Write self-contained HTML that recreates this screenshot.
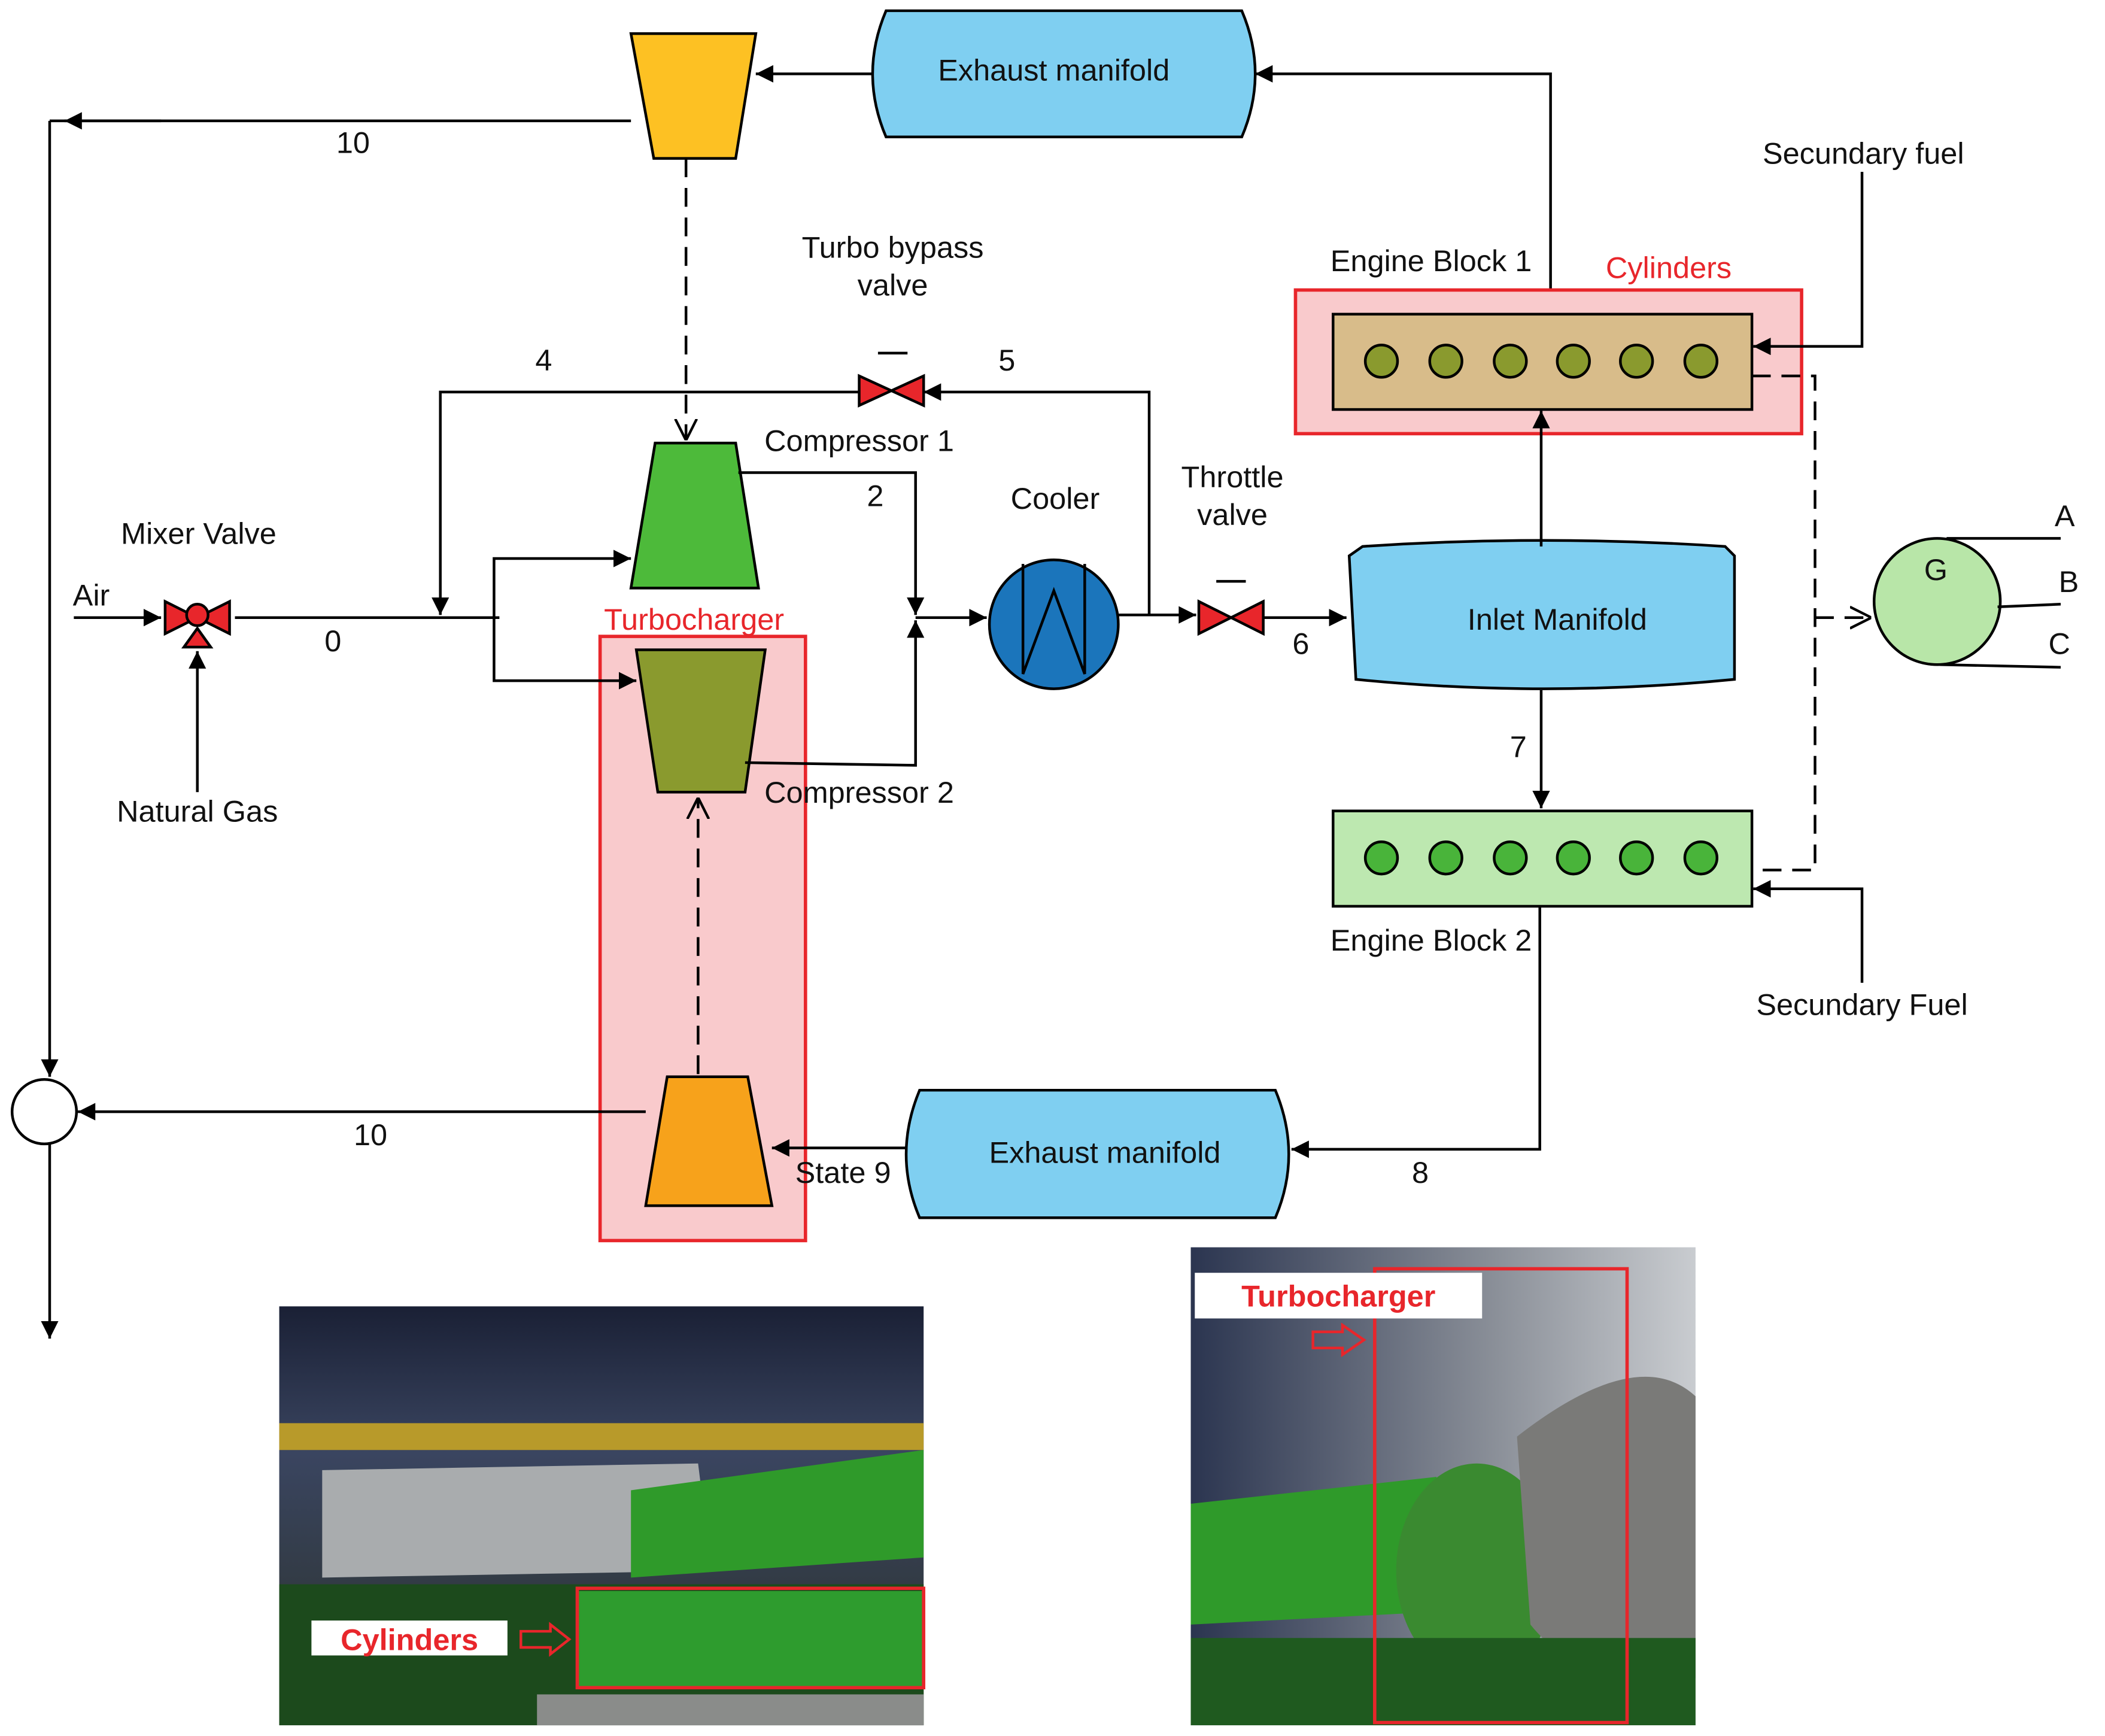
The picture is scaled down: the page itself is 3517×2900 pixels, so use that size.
<!DOCTYPE html>
<html><head><meta charset="utf-8"><style>
html,body{margin:0;padding:0;background:#fff;}
svg{display:block;}
text{font-family:"Liberation Sans",sans-serif;font-size:22.5px;fill:#111;}
</style></head><body>
<svg width="3517" height="2900" viewBox="0 0 1568 1293" preserveAspectRatio="none" xmlns="http://www.w3.org/2000/svg">
<defs>
<marker id="a" viewBox="0 0 10 10" refX="10" refY="5" markerWidth="16" markerHeight="13" orient="auto" markerUnits="userSpaceOnUse"><path d="M0,0 L10,5 L0,10 z" fill="#000"/></marker>
<marker id="o" viewBox="0 0 10 10" refX="10" refY="5" markerWidth="16" markerHeight="18" orient="auto" markerUnits="userSpaceOnUse"><path d="M0,0 L10,5 L0,10" fill="none" stroke="#000" stroke-width="1.2"/></marker>
<linearGradient id="ph1" x1="0" y1="0" x2="0" y2="1"><stop offset="0" stop-color="#1a2035"/><stop offset="0.35" stop-color="#3a4560"/><stop offset="1" stop-color="#2a3028"/></linearGradient>
<linearGradient id="ph2" x1="0" y1="0" x2="1" y2="0"><stop offset="0" stop-color="#2b3550"/><stop offset="0.6" stop-color="#8a8f98"/><stop offset="1" stop-color="#c9ccd0"/></linearGradient>
</defs>
<g stroke="#000" stroke-width="2" fill="none">
<path d="M470,25 L563,25 L548,118 L487,118 Z" fill="#FDC123"/>
<path d="M660,8 L925,8 Q945,55 925,102 L660,102 Q640,55 660,8 Z" fill="#7FCFF1"/>
<line x1="650" y1="55" x2="563" y2="55" marker-end="url(#a)"/>
<polyline points="1155,234 1155,55 935,55" marker-end="url(#a)"/>
<line x1="470" y1="90" x2="37" y2="90"/><line x1="120" y1="90" x2="48" y2="90" marker-end="url(#a)"/>
<line x1="37" y1="90" x2="37" y2="802" marker-end="url(#a)"/>
<line x1="511" y1="118" x2="511" y2="328" stroke-dasharray="14,8" marker-end="url(#o)"/>
<rect x="447" y="474" width="153" height="450" fill="#F9CACC" stroke="#E8262B" stroke-width="2.5"/>
<path d="M488,330 L548,330 L565,438 L470,438 Z" fill="#4DBA3A"/>
<path d="M474,484 L570,484 L555,590 L490,590 Z" fill="#8A9A2E"/>
<path d="M497,802 L557,802 L575,898 L481,898 Z" fill="#F7A21B"/>
<line x1="520" y1="800" x2="520" y2="594" stroke-dasharray="14,8" marker-end="url(#o)"/>
<line x1="55" y1="460" x2="120" y2="460" marker-end="url(#a)"/>
<line x1="175" y1="460" x2="372" y2="460"/>
<line x1="147" y1="590" x2="147" y2="485" marker-end="url(#a)"/>
<polyline points="368,460 368,416 470,416" marker-end="url(#a)"/>
<polyline points="368,460 368,507 474,507" marker-end="url(#a)"/>
<polyline points="640,292 328,292 328,458" marker-end="url(#a)"/>
<polyline points="856,458 856,292 688,292" marker-end="url(#a)"/>
<polyline points="550,352 682,352 682,458" marker-end="url(#a)"/>
<polyline points="555,568 682,570 682,462" marker-end="url(#a)"/>
<line x1="682" y1="460" x2="735" y2="460" marker-end="url(#a)"/>
<circle cx="785" cy="465" r="48" fill="#1B75BB"/>
<polyline points="762,420 762,502 785,440 808,502 808,420" stroke="#000" stroke-width="2"/>
<line x1="833" y1="458" x2="891" y2="458" marker-end="url(#a)"/>
<line x1="941" y1="460" x2="1003" y2="460" marker-end="url(#a)"/>
<path d="M1015,407 Q1150,398 1285,407 L1292,414 L1292,506 Q1150,520 1010,506 L1005,414 Z" fill="#7FCFF1"/>
<line x1="1148" y1="514" x2="1148" y2="602" marker-end="url(#a)"/>
<rect x="965" y="216" width="377" height="107" fill="#F9CACC" stroke="#E8262B" stroke-width="2.5"/>
<rect x="993" y="234" width="312" height="71" fill="#D8BC8A"/>
<line x1="1148" y1="407" x2="1148" y2="306" marker-end="url(#a)"/>
<g fill="#8A9A2E"><circle cx="1029" cy="269" r="12"/><circle cx="1077" cy="269" r="12"/><circle cx="1125" cy="269" r="12"/><circle cx="1172" cy="269" r="12"/><circle cx="1219" cy="269" r="12"/><circle cx="1267" cy="269" r="12"/></g>
<polyline points="1387,128 1387,258 1306,258" marker-end="url(#a)"/>
<rect x="993" y="604" width="312" height="71" fill="#BDE8B0"/>
<g fill="#49B43A"><circle cx="1029" cy="639" r="12"/><circle cx="1077" cy="639" r="12"/><circle cx="1125" cy="639" r="12"/><circle cx="1172" cy="639" r="12"/><circle cx="1219" cy="639" r="12"/><circle cx="1267" cy="639" r="12"/></g>
<polyline points="1387,732 1387,662 1306,662" marker-end="url(#a)"/>
<polyline points="1305,280 1352,280 1352,648 1305,648" stroke-dasharray="14,8"/>
<line x1="1352" y1="460" x2="1394" y2="460" stroke-dasharray="14,8" marker-end="url(#o)"/>
<circle cx="1443" cy="448" r="47" fill="#B8E6A8"/>
<line x1="1450" y1="401" x2="1535" y2="401"/><line x1="1488" y1="452" x2="1535" y2="450"/><line x1="1445" y1="495" x2="1535" y2="497"/>
<polyline points="1147,675 1147,856 962,856" marker-end="url(#a)"/>
<path d="M685,812 L950,812 Q970,860 950,907 L685,907 Q665,860 685,812 Z" fill="#7FCFF1"/>
<line x1="675" y1="855" x2="575" y2="855" marker-end="url(#a)"/>
<line x1="481" y1="828" x2="58" y2="828" marker-end="url(#a)"/>
<circle cx="33" cy="828" r="24" fill="#fff"/>
<line x1="37" y1="852" x2="37" y2="997" marker-end="url(#a)"/>
<path d="M640,280 L640,302 L688,280 L688,302 Z" fill="#E8262B"/><line x1="654" y1="263" x2="676" y2="263"/>
<path d="M893,448 L893,472 L941,448 L941,472 Z" fill="#E8262B"/><line x1="906" y1="433" x2="928" y2="433"/>
<path d="M123,448 L123,472 L171,448 L171,472 Z" fill="#E8262B"/>
<path d="M137,482 L157,482 L147,468 Z" fill="#E8262B"/>
<circle cx="147" cy="458" r="8" fill="#E8262B"/>
</g>
<text x="785" y="60" text-anchor="middle">Exhaust manifold</text>
<text x="263" y="114" text-anchor="middle">10</text>
<text x="665" y="192" text-anchor="middle">Turbo bypass</text>
<text x="665" y="220" text-anchor="middle">valve</text>
<text x="405" y="276" text-anchor="middle">4</text>
<text x="750" y="276" text-anchor="middle">5</text>
<text x="640" y="336" text-anchor="middle">Compressor 1</text>
<text x="652" y="377" text-anchor="middle">2</text>
<text x="786" y="379" text-anchor="middle">Cooler</text>
<text x="918" y="363" text-anchor="middle">Throttle</text>
<text x="918" y="391" text-anchor="middle">valve</text>
<text x="969" y="487" text-anchor="middle">6</text>
<text x="1160" y="469" text-anchor="middle">Inlet Manifold</text>
<text x="148" y="405" text-anchor="middle">Mixer Valve</text>
<text x="68" y="451" text-anchor="middle">Air</text>
<text x="248" y="485" text-anchor="middle">0</text>
<text x="147" y="612" text-anchor="middle">Natural Gas</text>
<text x="517" y="469" text-anchor="middle" style="fill:#E8262B">Turbocharger</text>
<text x="640" y="598" text-anchor="middle">Compressor 2</text>
<text x="1066" y="202" text-anchor="middle">Engine Block 1</text>
<text x="1243" y="207" text-anchor="middle" style="fill:#E8262B">Cylinders</text>
<text x="1388" y="122" text-anchor="middle">Secundary fuel</text>
<text x="1442" y="432" text-anchor="middle">G</text>
<text x="1538" y="392" text-anchor="middle">A</text>
<text x="1541" y="441" text-anchor="middle">B</text>
<text x="1534" y="487" text-anchor="middle">C</text>
<text x="1131" y="564" text-anchor="middle">7</text>
<text x="1066" y="708" text-anchor="middle">Engine Block 2</text>
<text x="1387" y="756" text-anchor="middle">Secundary Fuel</text>
<text x="823" y="866" text-anchor="middle">Exhaust manifold</text>
<text x="1058" y="881" text-anchor="middle">8</text>
<text x="628" y="881" text-anchor="middle">State 9</text>
<text x="276" y="853" text-anchor="middle">10</text>
<rect x="208" y="973" width="480" height="312" fill="url(#ph1)"/>
<rect x="208" y="1060" width="480" height="20" fill="#b89a2a"/>
<path d="M240,1095 L520,1090 L530,1170 L240,1175 Z" fill="#a9acae"/>
<path d="M470,1110 L688,1080 L688,1160 L470,1175 Z" fill="#2f9a2a"/>
<rect x="208" y="1180" width="480" height="105" fill="#1c4a1c"/>
<rect x="430" y="1185" width="258" height="72" fill="#2e9c2e"/>
<rect x="400" y="1262" width="288" height="23" fill="#8a8c8a"/>
<rect x="430" y="1183" width="258" height="74" fill="none" stroke="#E8262B" stroke-width="2.5"/>
<rect x="232" y="1207" width="146" height="26" fill="#fff"/>
<text x="305" y="1229" text-anchor="middle" style="fill:#E8262B;font-weight:bold">Cylinders</text>
<path d="M388,1215 L410,1215 L410,1210 L424,1221 L410,1232 L410,1227 L388,1227 Z" fill="none" stroke="#E8262B" stroke-width="2"/>
<rect x="887" y="929" width="376" height="356" fill="url(#ph2)"/>
<path d="M887,1120 L1070,1100 L1080,1200 L887,1210 Z" fill="#2f9a2a"/>
<ellipse cx="1100" cy="1170" rx="60" ry="80" fill="#3a8a30"/>
<path d="M1130,1070 Q1220,1000 1263,1040 L1263,1250 Q1180,1260 1140,1210 Z" fill="#7a7a78"/>
<rect x="887" y="1220" width="376" height="65" fill="#1f5a1f"/>
<rect x="1024" y="945" width="188" height="338" fill="none" stroke="#E8262B" stroke-width="2.5"/>
<rect x="890" y="948" width="214" height="34" fill="#fff"/>
<text x="997" y="973" text-anchor="middle" style="fill:#E8262B;font-weight:bold">Turbocharger</text>
<path d="M978,992 L1000,992 L1000,987 L1016,998 L1000,1009 L1000,1004 L978,1004 Z" fill="none" stroke="#E8262B" stroke-width="2"/>
</svg>
</body></html>
